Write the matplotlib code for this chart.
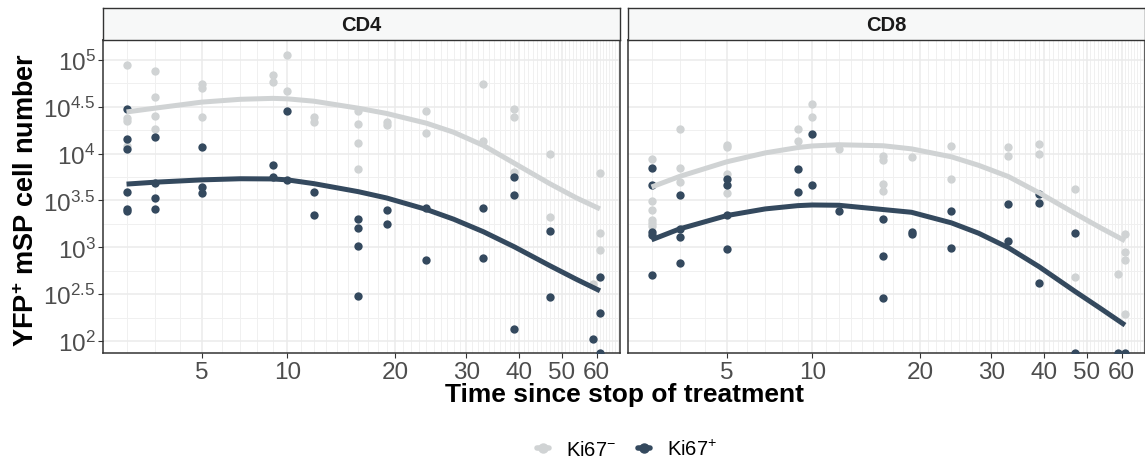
import numpy as np
import matplotlib
matplotlib.use("Agg")
import matplotlib.pyplot as plt
from matplotlib.lines import Line2D
from matplotlib.ticker import FixedLocator, NullFormatter

plt.rcParams["font.family"] = ["Liberation Sans", "DejaVu Sans"]
plt.rcParams["mathtext.fontset"] = "custom"
plt.rcParams["mathtext.rm"] = "Liberation Sans"
plt.rcParams["mathtext.it"] = "Liberation Sans:italic"
plt.rcParams["mathtext.bf"] = "Liberation Sans:bold"

# --- data: days since stop of treatment, log10 of YFP+ cell number ---
cd4_neg_day = [2, 2, 2, 2, 3, 3, 3, 3, 5, 5, 5, 9, 9, 10, 10, 12, 12, 16, 16, 16, 16,
               19, 19, 24, 24, 33, 33, 39, 39, 39, 47, 47, 59, 61, 61, 61]
cd4_neg_log = [4.95, 4.38, 4.35, 4.08, 4.88, 4.60, 4.40, 4.26, 4.74, 4.70, 4.39, 4.84, 4.76,
               5.05, 4.67, 4.39, 4.34, 4.46, 4.32, 4.11, 3.84, 4.34, 4.31, 4.46, 4.22,
               4.74, 4.13, 4.48, 4.39, 3.80, 4.00, 3.32, 2.61, 3.79, 3.15, 2.97]
cd4_pos_day = [2, 2, 2, 2, 2, 2, 3, 3, 3, 3, 5, 5, 5, 9, 9, 10, 10, 12, 12, 16, 16, 16, 16,
               19, 19, 24, 24, 33, 33, 39, 39, 39, 47, 47, 59, 61, 61, 61]
cd4_pos_log = [4.48, 4.16, 4.05, 3.59, 3.41, 3.39, 4.18, 3.69, 3.53, 3.41, 4.07, 3.64, 3.58,
               3.88, 3.75, 4.46, 3.72, 3.59, 3.34, 3.30, 3.21, 3.01, 2.48, 3.40, 3.25,
               3.42, 2.87, 3.42, 2.89, 3.75, 3.56, 2.13, 3.17, 2.47, 2.02, 2.68, 2.30, 1.87]

cd8_neg_day = [2, 2, 2, 2, 2, 2, 3, 3, 3, 5, 5, 5, 5, 9, 9, 10, 10, 12, 16, 16, 16, 16,
               19, 24, 24, 33, 33, 39, 39, 47, 47, 59, 61, 61, 61, 61]
cd8_neg_log = [3.94, 3.49, 3.40, 3.29, 3.26, 3.23, 4.26, 3.85, 3.70, 4.09, 4.07, 3.78, 3.58,
               4.26, 4.14, 4.53, 4.39, 4.05, 3.98, 3.93, 3.68, 3.60, 3.96, 4.08, 3.73,
               4.07, 3.97, 4.10, 4.00, 3.62, 2.68, 2.71, 3.14, 2.95, 2.86, 2.29]
cd8_pos_day = [2, 2, 2, 2, 2, 3, 3, 3, 3, 5, 5, 5, 5, 9, 9, 10, 10, 12, 16, 16, 16,
               19, 19, 24, 24, 33, 33, 39, 39, 39, 47, 47, 59, 61]
cd8_pos_log = [3.85, 3.67, 3.16, 3.13, 2.70, 3.56, 3.20, 3.11, 2.83, 3.73, 3.67, 3.34, 2.98,
               3.84, 3.59, 4.21, 3.66, 3.39, 3.30, 2.91, 2.46, 3.16, 3.14, 3.39, 2.99,
               3.46, 3.07, 3.57, 3.47, 2.62, 3.15, 1.87, 1.87, 1.87]

# fitted trend lines
fit_day = [2, 3, 5, 7, 9, 10, 12, 16, 19, 24, 28, 33, 39, 47, 54, 61]
cd4_neg_fit = [4.445, 4.485, 4.55, 4.58, 4.59, 4.585, 4.56, 4.485, 4.429, 4.325, 4.228,
               4.087, 3.897, 3.680, 3.528, 3.41]
cd4_pos_fit = [3.675, 3.695, 3.72, 3.732, 3.73, 3.72, 3.68, 3.594, 3.527, 3.404, 3.30,
               3.166, 3.005, 2.805, 2.659, 2.536]
cd8_neg_fit = [3.644, 3.757, 3.913, 4.008, 4.065, 4.082, 4.095, 4.084, 4.051, 3.966, 3.875,
               3.755, 3.580, 3.363, 3.204, 3.07]
cd8_pos_fit = [3.08, 3.197, 3.339, 3.41, 3.445, 3.452, 3.449, 3.403, 3.374, 3.261, 3.150,
               2.995, 2.791, 2.532, 2.342, 2.17]

panels = ["CD4", "CD8"]
x_major = [5, 10, 20, 30, 40, 50, 60]
y_major = [2, 2.5, 3, 3.5, 4, 4.5, 5]
y_minor = [2.25, 2.75, 3.25, 3.75, 4.25, 4.75]

neg_col = "#D0D3D4"
pos_col = "#34495E"


def fwd(x):
    return np.log(np.maximum(np.asarray(x, dtype=float) + 5, 1e-6))


def inv(y):
    return np.exp(y) - 5


fig = plt.figure(figsize=(11.45, 4.6), dpi=100)

data = [
    (cd4_neg_day, cd4_neg_log, cd4_pos_day, cd4_pos_log, cd4_neg_fit, cd4_pos_fit),
    (cd8_neg_day, cd8_neg_log, cd8_pos_day, cd8_pos_log, cd8_neg_fit, cd8_pos_fit),
]
lefts = [103.3 / 1145, 628.3 / 1145]
w = 516.5 / 1145
bottom = 106 / 460
h = 313 / 460
strip_h = 31.7 / 460

for i, (nd, nl, pd_, pl, nf, pf) in enumerate(data):
    ax = fig.add_axes([lefts[i], bottom, w, h])
    ax.set_xscale("function", functions=(fwd, inv))
    ax.set_yscale("log")

    ax.scatter(nd, 10 ** np.array(nl), s=36, color=neg_col, lw=0, zorder=2)
    ax.scatter(pd_, 10 ** np.array(pl), s=36, color=pos_col, lw=0, zorder=3)
    ax.plot(fit_day, 10 ** np.array(nf), color=neg_col, lw=3.6, zorder=4,
            solid_capstyle="butt", solid_joinstyle="round")
    ax.plot(fit_day, 10 ** np.array(pf), color=pos_col, lw=3.6, zorder=5,
            solid_capstyle="butt", solid_joinstyle="round")

    ax.set_xlim(1.27, 67.5)
    ax.set_ylim(10 ** 1.872, 10 ** 5.213)

    ax.xaxis.set_major_locator(FixedLocator(x_major))
    ax.xaxis.set_minor_locator(FixedLocator([d for d in range(2, 68) if d not in x_major]))
    ax.xaxis.set_minor_formatter(NullFormatter())
    ax.set_xticklabels([str(v) for v in x_major])

    ax.yaxis.set_major_locator(FixedLocator([10 ** v for v in y_major]))
    ax.yaxis.set_minor_locator(FixedLocator([10 ** v for v in y_minor]))
    ax.yaxis.set_minor_formatter(NullFormatter())
    ax.set_yticklabels(["$10^{%g}$" % v for v in y_major])

    ax.grid(which="major", color="#EBEBEB", lw=1.1)
    ax.grid(which="minor", color="#F0F0F0", lw=0.7)
    ax.set_axisbelow(True)

    ax.tick_params(which="major", length=3.5, width=0.8, color="#333333",
                   labelcolor="#4D4D4D", labelsize=17.5, pad=2)
    ax.tick_params(which="minor", length=0)
    if i == 1:
        ax.tick_params(axis="y", which="both", left=False, labelleft=False)

    for sp in ax.spines.values():
        sp.set_color("#333333")
        sp.set_linewidth(1.1)

    sax = fig.add_axes([lefts[i], bottom + h, w, strip_h])
    sax.set_facecolor("#F7F8F8")
    sax.set_xticks([])
    sax.set_yticks([])
    for sp in sax.spines.values():
        sp.set_color("#333333")
        sp.set_linewidth(1.0)
    sax.text(0.5, 0.5, panels[i], ha="center", va="center", fontsize=14.5,
             fontweight="bold", color="#1A1A1A", transform=sax.transAxes)

fig.text(0.545, 0.141, "Time since stop of treatment", ha="center", va="center",
         fontsize=19, fontweight="bold")
fig.text(0.024, 0.565, r"YFP$^{\mathbf{+}}$ mSP cell number", ha="center", va="center",
         rotation=90, fontsize=19.5, fontweight="bold")

handles = [
    Line2D([], [], color=neg_col, lw=4, marker="o", markersize=6.5,
           solid_capstyle="round"),
    Line2D([], [], color=pos_col, lw=4, marker="o", markersize=6.5,
           solid_capstyle="round"),
]
fig.legend(handles, [r"Ki67$^{-}$", r"Ki67$^{+}$"], loc="center",
           bbox_to_anchor=(0.5476, 0.022), ncol=2, frameon=False, fontsize=14.5,
           handlelength=0.6, handletextpad=0.85, columnspacing=1.1)

fig.savefig("out.png", dpi=100)
